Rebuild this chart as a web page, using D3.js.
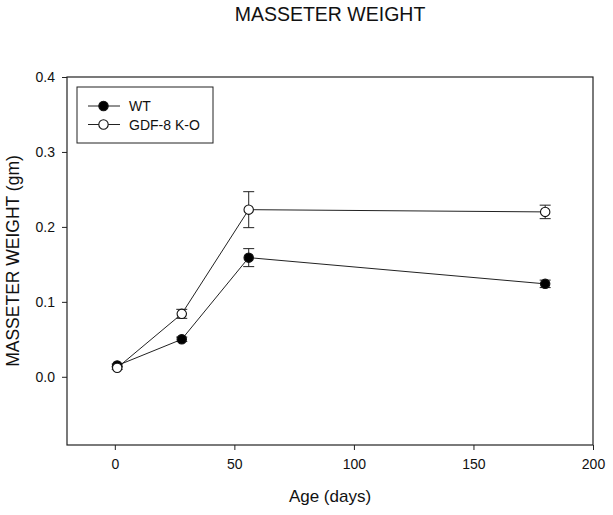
<!DOCTYPE html>
<html><head><meta charset="utf-8">
<script src="https://cdn.jsdelivr.net/npm/d3@7"></script>
<style>body{margin:0;background:#fff}text{font-family:Arial,"Liberation Sans",sans-serif;fill:#111}</style>
</head><body><svg id="c" width="613" height="515"></svg>
<script>
const ages = [1, 28, 56, 180];
const wtMean = [0.015, 0.050, 0.159, 0.124];
const wtErr = [0.002, 0.003, 0.012, 0.005];
const koMean = [0.012, 0.084, 0.223, 0.220];
const koErr = [0.002, 0.006, 0.024, 0.009];
const seriesNames = ["WT", "GDF-8 K-O"];
const xTicks = [0, 50, 100, 150, 200];
const yTicks = [0.0, 0.1, 0.2, 0.3, 0.4];

const svg = d3.select("#c");
const L = 67, R = 593, T = 77, B = 445;
const x = d3.scaleLinear().domain([-20, 200]).range([L, R]);
const y = d3.scaleLinear().domain([-0.091, 0.4]).range([B, T]);

svg.append("rect").attr("x", L).attr("y", T).attr("width", R - L).attr("height", B - T)
  .attr("fill", "none").attr("stroke", "#222").attr("stroke-width", 1.2);

const xa = svg.append("g").attr("transform", `translate(0,${B})`)
  .call(d3.axisBottom(x).tickValues(xTicks).tickSize(5).tickPadding(9).tickFormat(d3.format("d")));
const ya = svg.append("g").attr("transform", `translate(${L},0)`)
  .call(d3.axisLeft(y).tickValues(yTicks).tickSize(5).tickPadding(7).tickFormat(d3.format(".1f")));
[xa, ya].forEach(a => {
  a.select(".domain").remove();
  a.selectAll("line").attr("stroke", "#222");
  a.selectAll("text").style("font-size", "14px").attr("fill", "#222").style("font-family", "Arial, 'Liberation Sans', sans-serif");
});

svg.append("text").attr("x", 330).attr("y", 21).attr("text-anchor", "middle").style("font-size", "19.5px").text("MASSETER WEIGHT");
svg.append("text").attr("x", 330).attr("y", 502).attr("text-anchor", "middle").style("font-size", "17px").text("Age (days)");
svg.append("text").attr("transform", `translate(19,261) rotate(-90)`).attr("text-anchor", "middle").style("font-size", "17.5px").text("MASSETER WEIGHT (gm)");

const series = [
  {name: seriesNames[0], mean: wtMean, err: wtErr, fill: "#000"},
  {name: seriesNames[1], mean: koMean, err: koErr, fill: "#fff"}
];
const line = d3.line().x(d => x(d.a)).y(d => y(d.m));
series.forEach(s => {
  const pts = ages.map((a, i) => ({a, m: s.mean[i], e: s.err[i]}));
  svg.append("path").datum(pts).attr("d", line).attr("fill", "none").attr("stroke", "#222").attr("stroke-width", 1);
  const g = svg.append("g");
  pts.forEach(p => {
    const cx = x(p.a);
    g.append("line").attr("x1", cx).attr("x2", cx).attr("y1", y(p.m - p.e)).attr("y2", y(p.m + p.e)).attr("stroke", "#222");
    [p.m - p.e, p.m + p.e].forEach(v => g.append("line").attr("x1", cx - 5.5).attr("x2", cx + 5.5).attr("y1", y(v)).attr("y2", y(v)).attr("stroke", "#222"));
  });
});
series.forEach(s => {
  svg.append("g").selectAll("circle").data(ages.map((a, i) => ({a, m: s.mean[i]}))).join("circle")
    .attr("cx", d => x(d.a)).attr("cy", d => y(d.m)).attr("r", 4.7)
    .attr("fill", s.fill).attr("stroke", "#111").attr("stroke-width", 1.1);
});

// legend
svg.append("rect").attr("x", 77).attr("y", 87).attr("width", 136).attr("height", 56)
  .attr("fill", "#fff").attr("stroke", "#222").attr("stroke-width", 1);
series.forEach((s, i) => {
  const ly = 106 + i * 18.5;
  svg.append("line").attr("x1", 88).attr("x2", 120).attr("y1", ly).attr("y2", ly).attr("stroke", "#222");
  svg.append("circle").attr("cx", 103.5).attr("cy", ly).attr("r", 4.7).attr("fill", s.fill).attr("stroke", "#111").attr("stroke-width", 1.1);
  svg.append("text").attr("x", 129).attr("y", ly + 5).style("font-size", "14px").text(s.name);
});
</script></body></html>
